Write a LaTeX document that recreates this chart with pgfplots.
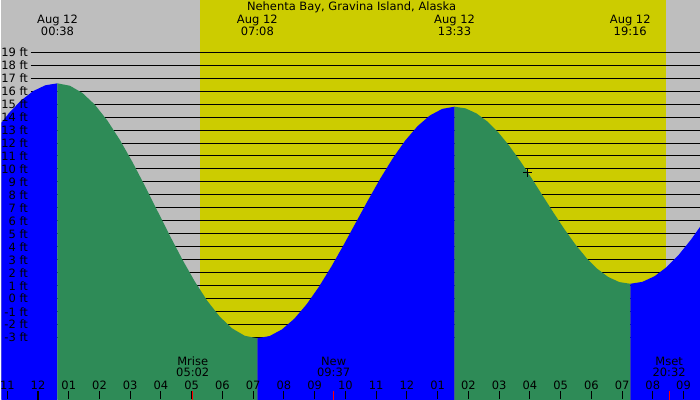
\documentclass[border=0pt]{standalone}
\usepackage{fontspec}
\setmainfont{DejaVu Sans}
\usepackage{pgfplots}
\pgfplotsset{compat=1.18}
\definecolor{bggray}{RGB}{190,190,190}
\definecolor{dayyel}{RGB}{204,204,0}
\definecolor{tblue}{RGB}{0,0,255}
\definecolor{tgreen}{RGB}{46,139,87}
\newcommand\lab{\fontsize{11.5}{13.8}\selectfont}
\begin{document}
\begin{tikzpicture}
\begin{axis}[
 scale only axis, width=700pt, height=400pt,
 xmin=-1.1916, xmax=21.536, ymin=-7.746, ymax=23.023,
 axis line style={draw=none},
 axis background/.style={fill=bggray},
 axis on top,
 tick pos=left,
 xtick={-1,0,...,21},
 xticklabels={11,12,01,02,03,04,05,06,07,08,09,10,11,12,01,02,03,04,05,06,07,08,09},
 tick align=inside,
 major tick length=8pt,
 xtick style={black, line width=1pt},
 xticklabel style={anchor=base, yshift=10pt},
 ytick={-3,-2,...,19},
 yticklabels={-3 ft,-2 ft,-1 ft,0 ft,1 ft,2 ft,3 ft,4 ft,5 ft,6 ft,7 ft,8 ft,9 ft,10 ft,11 ft,12 ft,13 ft,14 ft,15 ft,16 ft,17 ft,18 ft,19 ft},
 ytick style={draw=none},
 yticklabel style={anchor=east, xshift=26.7pt},
 tick label style={font=\lab, inner sep=0pt, text=black},
 unbounded coords=jump,
]
% daylight band
\addplot[fill=dayyel, draw=none] coordinates {(5.27,-8) (5.27,24) (20.43,24) (20.43,-8)} -- cycle;
% horizontal foot lines
\addplot[black, line width=1pt] table[row sep=\\] {
x y\\
-0.24 -3\\ 21.6 -3\\ nan nan\\
-0.24 -2\\ 21.6 -2\\ nan nan\\
-0.24 -1\\ 21.6 -1\\ nan nan\\
-0.24 0\\ 21.6 0\\ nan nan\\
-0.24 1\\ 21.6 1\\ nan nan\\
-0.24 2\\ 21.6 2\\ nan nan\\
-0.24 3\\ 21.6 3\\ nan nan\\
-0.24 4\\ 21.6 4\\ nan nan\\
-0.24 5\\ 21.6 5\\ nan nan\\
-0.24 6\\ 21.6 6\\ nan nan\\
-0.24 7\\ 21.6 7\\ nan nan\\
-0.24 8\\ 21.6 8\\ nan nan\\
-0.24 9\\ 21.6 9\\ nan nan\\
-0.24 10\\ 21.6 10\\ nan nan\\
-0.24 11\\ 21.6 11\\ nan nan\\
-0.24 12\\ 21.6 12\\ nan nan\\
-0.24 13\\ 21.6 13\\ nan nan\\
-0.24 14\\ 21.6 14\\ nan nan\\
-0.24 15\\ 21.6 15\\ nan nan\\
-0.24 16\\ 21.6 16\\ nan nan\\
-0.24 17\\ 21.6 17\\ nan nan\\
-0.24 18\\ 21.6 18\\ nan nan\\
-0.24 19\\ 21.6 19\\
};
% rising (blue) before high 00:38
\addplot[fill=tblue, draw=none] coordinates {
(-1.337,-8) (-1.337,13.133) (-0.943,14.315) (-0.549,15.285) (-0.155,16.006) (0.239,16.450) (0.633,16.6) (0.633,-8)} -- cycle;
% falling (green) 00:38 -> 07:08
\addplot[fill=tgreen, draw=none] coordinates {
(0.633,-8) (0.633,16.6) (1.039,16.411) (1.446,15.852) (1.852,14.944) (2.258,13.722) (2.664,12.233) (3.071,10.535) (3.477,8.692) (3.883,6.775) (4.289,4.858) (4.696,3.015) (5.102,1.317) (5.508,-0.172) (5.914,-1.394) (6.321,-2.302) (6.727,-2.861) (7.133,-3.05) (7.133,-8)} -- cycle;
% rising (blue) 07:08 -> 13:33
\addplot[fill=tblue, draw=none] coordinates {
(7.133,-8) (7.133,-3.05) (7.534,-2.879) (7.935,-2.371) (8.336,-1.546) (8.737,-0.436) (9.138,0.917) (9.539,2.460) (9.940,4.134) (10.341,5.875) (10.742,7.616) (11.143,9.290) (11.544,10.833) (11.945,12.186) (12.346,13.296) (12.747,14.121) (13.149,14.629) (13.55,14.8) (13.55,-8)} -- cycle;
% falling (green) 13:33 -> 19:16
\addplot[fill=tgreen, draw=none] coordinates {
(13.55,-8) (13.55,14.8) (13.907,14.669) (14.265,14.280) (14.622,13.650) (14.979,12.801) (15.336,11.767) (15.694,10.587) (16.051,9.306) (16.408,7.975) (16.766,6.644) (17.123,5.363) (17.480,4.183) (17.837,3.149) (18.195,2.300) (18.552,1.670) (18.909,1.281) (19.267,1.15) (19.267,-8)} -- cycle;
% rising (blue) after 19:16
\addplot[fill=tblue, draw=none] coordinates {
(19.267,-8) (19.267,1.15) (19.663,1.297) (20.059,1.734) (20.454,2.443) (20.850,3.398) (21.246,4.561) (21.642,5.888) (21.642,-8)} -- cycle;
% midnight tick (thick) and moon event ticks (red)
\addplot[black, line width=2pt] coordinates {(0,-7.8) (0,-7.13)};
\addplot[red, line width=1pt] coordinates {(5.033,-7.8) (5.033,-7.13)};
\addplot[red, line width=1pt] coordinates {(9.617,-7.8) (9.617,-7.13)};
\addplot[red, line width=1pt] coordinates {(20.533,-7.8) (20.533,-7.13)};
% current time marker
\addplot[only marks, mark=+, mark size=4.5pt, black, mark options={line width=1pt}] coordinates {(15.92,9.72)};
% title and extreme labels
\node[font=\lab, anchor=base] at (axis cs:10.2,22.2) {Nehenta Bay, Gravina Island, Alaska};
\node[font=\lab, anchor=base] at (axis cs:0.633,21.18) {Aug 12};
\node[font=\lab, anchor=base] at (axis cs:0.633,20.25) {00:38};
\node[font=\lab, anchor=base] at (axis cs:7.133,21.18) {Aug 12};
\node[font=\lab, anchor=base] at (axis cs:7.133,20.25) {07:08};
\node[font=\lab, anchor=base] at (axis cs:13.55,21.18) {Aug 12};
\node[font=\lab, anchor=base] at (axis cs:13.55,20.25) {13:33};
\node[font=\lab, anchor=base] at (axis cs:19.267,21.18) {Aug 12};
\node[font=\lab, anchor=base] at (axis cs:19.267,20.25) {19:16};
% moon labels
\node[font=\lab, anchor=base] at (axis cs:5.033,-5.13) {Mrise};
\node[font=\lab, anchor=base] at (axis cs:5.033,-6.0) {05:02};
\node[font=\lab, anchor=base] at (axis cs:9.617,-5.13) {New};
\node[font=\lab, anchor=base] at (axis cs:9.617,-6.0) {09:37};
\node[font=\lab, anchor=base] at (axis cs:20.533,-5.13) {Mset};
\node[font=\lab, anchor=base] at (axis cs:20.533,-6.0) {20:32};
\end{axis}
\end{tikzpicture}
\end{document}
